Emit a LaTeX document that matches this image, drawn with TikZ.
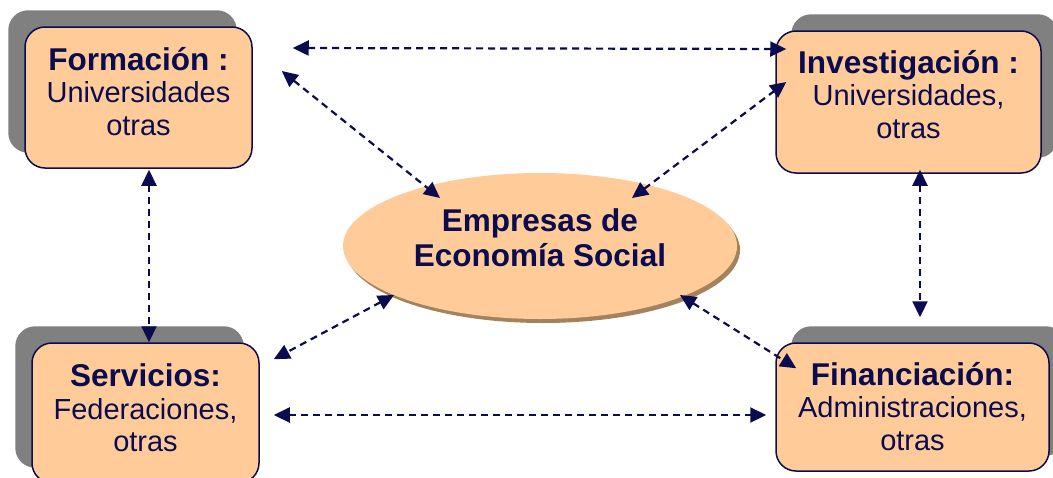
\documentclass[tikz,border=0pt]{standalone}
\usepackage{fontspec}
\setmainfont{Liberation Sans}
\usepackage{xcolor}
\usepackage{tikz}
\usetikzlibrary{calc,arrows.meta,backgrounds,shapes.geometric}

\definecolor{navy}{HTML}{0B0B4F}
\definecolor{peach}{HTML}{FFCC99}
\definecolor{shadowgray}{HTML}{808080}
\definecolor{rimbrown}{HTML}{A3825C}

\newcommand{\lowpad}[1]{\rule[-#1pt]{0pt}{0pt}}
\newcommand{\boxtitle}[1]{{\fontsize{31.5}{32.5}\selectfont\bfseries #1}}

\tikzset{
  areabox/.style={draw=navy, line width=1.5pt, fill=peach, rounded corners=20pt,
    inner sep=0pt, align=center, text=navy, font=\fontsize{29}{32.5}\selectfont},
  hub/.style={ellipse, fill=peach, inner sep=0pt, align=center, text=navy,
    minimum width=394, minimum height=146, font=\fontsize{31.5}{35}\selectfont\bfseries},
  boxshadow/.style={fill=shadowgray, rounded corners=20pt},
  link/.style={navy, line width=2.2pt, dash pattern=on 7pt off 5pt,
    {Triangle[length=16pt,width=15pt]}-{Triangle[length=16pt,width=15pt]}},
}

\begin{document}
\begin{tikzpicture}[x=1pt,y=1pt,yscale=-1]

\useasboundingbox (0,0) rectangle (1053,477);

% the four areas and the centre

\node[areabox, minimum width=227, minimum height=141] (form) at (138.5,97.5)
  {\boxtitle{Formación :}\\ Universidades\\ otras\lowpad{13}};

\node[areabox, minimum width=265, minimum height=142] (inv) at (908.5,102)
  {\boxtitle{Investigación :}\\ Universidades,\\ otras\lowpad{16}};

\node[areabox, minimum width=227, minimum height=140] (serv) at (145.5,413)
  {\boxtitle{Servicios:}\\ Federaciones,\\ otras\lowpad{10}};

\node[areabox, minimum width=273, minimum height=128] (fin) at (912.5,407)
  {\boxtitle{Financiación:}\\ Administraciones,\\ otras\lowpad{2}};

\node[hub] (emp) at (540,246) {Empresas de\\ Economía Social\lowpad{16}};

\begin{scope}[on background layer]
\fill[boxshadow] ($(form.south west)+(-16,-16)$) rectangle ($(form.north east)+(-16,-16)$);
\fill[boxshadow] ($(serv.south west)+(-16,-16)$) rectangle ($(serv.north east)+(-16,-16)$);
\fill[boxshadow] ($(inv.south west)+(16,-16)$) rectangle ($(inv.north east)+(16,-16)$);
\fill[boxshadow] ($(fin.south west)+(16,-16)$) rectangle ($(fin.north east)+(16,-16)$);
\fill[rimbrown] ($(emp.center)+(3,4)$) ellipse [x radius=197, y radius=73];
\end{scope}

% links

\draw[link] ($(form.east)+(40,-49.5)$) -- ($(inv.west)+(11,-53)$);

\draw[link] ($(form.east)+(29,-26.5)$) -- ($(emp.center)+(-100,-48)$);

\draw[link] ($(emp.center)+(92,-48)$) -- ($(inv.west)+(11,-20)$);

\draw[link] ($(form.south)+(10.5,1)$) -- ($(serv.north)+(3.5,0)$);

\draw[link] ($(inv.south)+(11.5,-4)$) -- ($(fin.north)+(7.5,-25)$);

\draw[link] ($(emp.center)+(-146,49)$) -- ($(serv.north east)+(14,17)$);

\draw[link] ($(emp.center)+(140,49)$) -- ($(fin.north west)+(21,26)$);

\draw[link] ($(serv.east)+(14,2)$) -- ($(fin.west)+(-9,8)$);

\end{tikzpicture}
\end{document}
